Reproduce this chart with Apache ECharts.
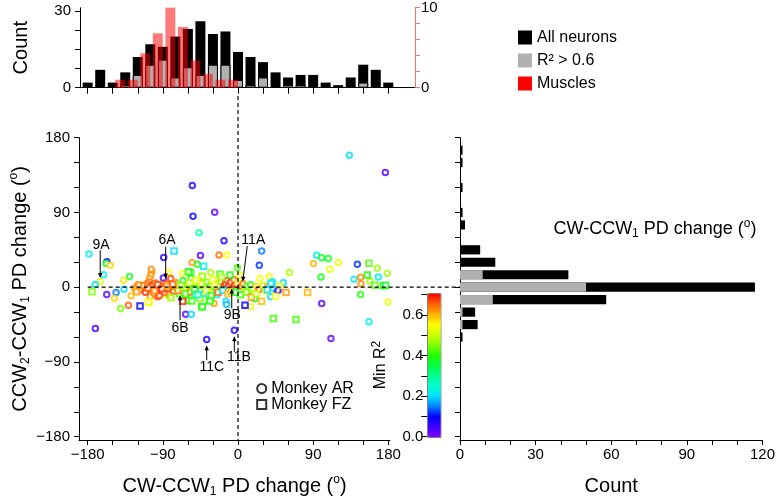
<!DOCTYPE html>
<html><head><meta charset="utf-8">
<script src="https://cdn.jsdelivr.net/npm/echarts@6/dist/echarts.min.js"></script>
<style>html,body{margin:0;padding:0;background:#fff}#c{width:778px;height:504px}</style>
</head><body><div id="c"></div>
<script>
const FONT = '"Liberation Sans", Arial, Helvetica, sans-serif';

// ---- Top histogram: CW-CCW1 PD change (deg) ----
const topBinCenters = [-180,-165,-150,-135,-120,-105,-90,-75,-60,-45,-30,-15,0,15,30,45,60,75,90,105,120,135,150,165,180];
const topAllCounts  = [2,7,2,6,12,17,16,20,23,26,21,22,14,12,10,6,4,5,5,2,1,4,9,7,2];
const topR2Counts   = [0,0,0,1,5,9,11,4,8,5,9,9,3,1,4,0,1,1,0,0,0,0,2,0,0];
const muscleBinCenters = [-141,-126,-111,-96,-81,-66,-51,-36,-21,-6];
const muscleCounts     = [1,1,4.3,6.8,10,7.6,3.4,1.7,1,1];

// ---- Right histogram: CCW2-CCW1 PD change (deg) ----
const rightBinCenters = [165,150,120,90,75,45,30,15,0,-15,-30,-45,-60];
const rightAllCounts  = [1,1,1,1,2,8,14,43,117,58,6,7,1];
const rightR2Counts   = [0,0,0,0,0,0,0,9,50,13,1,1,0];

// ---- Scatter: [CW-CCW1 change, CCW2-CCW1 change, min R2] ----
const monkeyAR = [
 [-54.7,122.4,0.08],[-53.9,85.5,0.10],[-27.9,90.3,0.02],[133.3,158.9,0.20],[176.4,138.1,0.03],
 [-46.7,65.4,0.28],[-16.8,55.8,0.08],[-89.0,35.7,0.08],[-45.0,38.1,0.03],[-22.7,38.9,0.65],
 [-13.6,38.9,0.55],[28.3,43.7,0.15],[25.5,26.5,0.12],[-178.4,40.1,0.22],[-157.0,30.5,0.10],
 [-158.0,28.5,0.38],[-153.0,26.5,0.58],[-161.0,15.0,0.22],[-165.0,6.4,0.52],[-171.0,3.2,0.20],
 [-130.0,13.0,0.38],[-137.0,8.4,0.57],[-103.0,18.5,0.62],[-104.0,21.5,0.63],[-104.5,14.4,0.63],
 [-106.0,10.4,0.62],[-107.0,6.4,0.64],[-89.4,11.2,0.05],[-83.4,17.7,0.55],[-80.6,10.4,0.67],
 [-66.6,16.4,0.55],[-56.3,11.2,0.40],[-55.0,29.7,0.62],[-48.7,27.7,0.40],[-32.7,17.7,0.48],
 [-0.8,23.7,0.42],[2.4,14.4,0.55],[37.5,12.8,0.53],[26.3,10.4,0.55],[61.5,17.7,0.48],
 [54.3,5.6,0.20],[41.5,6.4,0.22],[90.2,28.5,0.60],[94.2,38.5,0.22],[100.2,35.3,0.38],
 [108.1,34.5,0.38],[120.1,29.7,0.53],[110.1,21.7,0.53],[99.4,12.4,0.38],[142.9,27.7,0.12],
 [138.9,9.6,0.22],[146.8,12.0,0.63],[147.2,4.0,0.63],[168.0,12.4,0.22],[166.8,22.9,0.47],
 [178.8,16.9,0.47],[158.0,7.2,0.47],[146.8,-8.8,0.40],[100.2,-19.7,0.03],[179.5,-17.7,0.53],
 [156.8,-41.7,0.22],[46.3,-3.6,0.08],[111.3,-61.8,0.03],[-170.8,-49.8,0.05],[-131.3,-21.7,0.66],
 [-140.5,-25.7,0.45],[-62.7,-32.5,0.03],[-55.9,-32.5,0.20],[-4.4,-51.8,0.08],[-37.5,-63.0,0.08],
 [15.2,-23.7,0.53],[-14.4,-16.9,0.20],[-13.6,-20.9,0.18],[-28.7,-19.7,0.62],[39.1,-11.6,0.20],
 [-157.2,-8.8,0.03],[-146.0,-6.4,0.15],[-148.0,-13.6,0.58],[-136.5,-2.4,0.20],[-128.0,-10.4,0.60],
 [-70.3,-8.4,0.40],[-96.2,-11.6,0.67],[-105.0,-10.8,0.62],[-86.6,-8.8,0.55],[-81.4,-11.6,0.47],
 [-124,-1,0.62],[-120,3,0.64],[-117,-3,0.66],[-114,1,0.63],[-111,-6,0.68],[-109,4,0.65],
 [-106,-2,0.67],[-103,2,0.69],[-101,-7,0.64],[-99,5,0.66],[-97,-1,0.68],[-95,3,0.62],
 [-94,-10,0.67],[-92,-4,0.68],[-90,1,0.65],[-88,-6,0.66],[-86,4,0.67],[-84,-2,0.69],
 [-82,-9,0.64],[-79,2,0.63],[-77,-5,0.66],[-75,6,0.62],[-73,-2,0.40],[-71,3,0.52],
 [-68,-5,0.60],[-66,8,0.38],[-64,-1,0.55],[-62,-12,0.40],[-60,2,0.47],[-58,-6,0.66],
 [-55,4,0.42],[-53,-3,0.52],[-51,-10,0.30],[-49,1,0.56],[-47,7,0.42],[-45,-4,0.38],
 [-43,3,0.60],[-41,-8,0.20],[-39,0,0.50],[-37,6,0.45],[-35,-2,0.15],[-33,2,0.42],
 [-31,-6,0.55],[-29,5,0.48],[-27,-1,0.38],[-25,-9,0.20],[-23,3,0.57],[-21,7,0.44],
 [-19,-3,0.12],[-17,1,0.66],[-15,4,0.68],[-13,8,0.67],[-11,2,0.69],[-9,6,0.68],
 [-7,-2,0.62],[-5,9,0.65],[-4,2,0.68],[-2,-1,0.69],[0,5,0.55],[2,-4,0.38],
 [4,1,0.68],[6,4,0.64],[8,-2,0.52],[10,1,0.44],[12,-6,0.52],[15,3,0.40],
 [18,-8,0.45],[20,-14,0.38],[22,1,0.58],[25,-3,0.66],[30,2,0.50],[33,-5,0.55],
 [36,1,0.62],[42,-1,0.20],[48,-4,0.05],[50,2,0.53]
];
const monkeyFZ = [
 [-174.8,-5.5,0.45],[-117.3,-22.5,0.10],[-106.6,-18.4,0.55],[-76.6,43.7,0.20],[-56.7,17.7,0.40],
 [-41.1,25.3,0.22],[-43.0,12.8,0.53],[-21.5,15.6,0.42],[-9.6,14.8,0.40],[156.8,28.9,0.43],
 [154.8,14.8,0.40],[164.0,2.4,0.43],[174.0,1.6,0.40],[176.8,2.4,0.38],[42.3,-37.7,0.42],
 [69.4,-38.9,0.42],[83.4,-6.4,0.60],[57.5,-6.4,0.62],[8.4,-21.7,0.10],[-43.5,-23.7,0.40],
 [-34.3,-15.7,0.42],[28.3,-16.9,0.60],[39.5,4.4,0.20],[-121.3,-5.6,0.62],[-107.3,-17.7,0.55],
 [-80.2,-12.8,0.47],[-59.5,-15.6,0.40],[-42.7,-23.7,0.40],[-66.2,-16.9,0.68],[-55.5,-16.5,0.42],
 [-45.5,-13.6,0.45],[-33.5,-16.5,0.40],[-118,2.4,0.62],[-112.5,1.6,0.64],[-108,-1,0.66],
 [-100,-4,0.63],[-96,3,0.67],[-91,-2,0.68],[-85,1,0.62],[-78,3.6,0.66],[-72,-4,0.63],
 [-68,2,0.45],[-63,-8,0.42],[-58,5,0.50],[-52,-2,0.38],[-48,-9,0.25],[-44,4,0.48],
 [-38,-4,0.52],[-32,-10,0.40],[-28,3,0.53],[-24,-6,0.65],[-18,-4,0.22],[-12,-8,0.60],
 [-8.4,-5.6,0.60],[-3,-6,0.35],[3,-9,0.42],[10,-6,0.45],[16,-12,0.62],[22,-8,0.50],
 [35,-3,0.20],[45,-11,0.55],[-59.5,18.5,0.40],[-42.7,13.2,0.47],[-20,12,0.48],
 [-30,9,0.55],[-50,8,0.55]
];

// ---- Axis ticks / labels ----
const degTicks  = [-180,-150,-120,-90,-60,-30,0,30,60,90,120,150,180];
const degLabels = [-180,-90,0,90,180];
const topCountTicks  = [0,7.5,15,22.5,30];
const topCountLabels = [0,30];
const muscleTicks  = [0,2,4,6,8,10];
const muscleLabels = [0,10];
const rightCountLabels = [0,30,60,90,120];
const r2Ticks  = [0,0.1,0.2,0.3,0.4,0.5,0.6,0.7];
const r2Labels = [0,0.2,0.4,0.6];

// ---- Annotations (data coordinates) ----
const annotations = [
 {label:'9A',  tx:-164,  ty:51,    x1:-165,  y1:44.5,  x2:-165,  y2:11},
 {label:'6A',  tx:-85,   ty:56.6,  x1:-86.6, y1:48.6,  x2:-86.6, y2:10.5},
 {label:'11A', tx:18.3,  ty:56.6,  x1:11.1,  y1:49.4,  x2:5.6,   y2:6.5},
 {label:'6B',  tx:-69.4, ty:-49.7, x1:-69.4, y1:-39.7, x2:-69.4, y2:-9.6},
 {label:'9B',  tx:-6.8,  ty:-33.7, x1:-7.5,  y1:-25.6, x2:-7.5,  y2:-1.6},
 {label:'11C', tx:-31.5, ty:-95.8, x1:-37.5, y1:-87.9, x2:-37.5, y2:-69.8},
 {label:'11B', tx:1.2,   ty:-84.6, x1:-4.4,  y1:-77.8, x2:-4.4,  y2:-59}
];

const rainbow = ['#8000ff','#4000ff','#0000ff','#0080ff','#00e0ff','#00ffd0','#00ff90','#00ff40',
                 '#20ff00','#80ff00','#d0ff00','#ffff00','#ffb000','#ff6000','#ff0000'];

const minus = v => (v < 0 ? '\u2212' + Math.abs(v) : String(v));
const black = '#000';
const coral = '#ee7755';
const lineStyle = {color: black, width: 1};
const richName = {
  sub: {fontSize: 12, lineHeight: 12, verticalAlign: 'bottom', fontFamily: FONT, color: black},
  sup: {fontSize: 12, lineHeight: 12, verticalAlign: 'top', fontFamily: FONT, color: black}
};
const nameStyle = (size) => ({fontSize: size, lineHeight: size + 4, color: black, fontFamily: FONT, rich: richName});

const chart = echarts.init(document.getElementById('c'), null, {renderer: 'canvas'});

function hbar(color) {
  return function (params, api) {
    const y = api.value(0), c = api.value(1);
    const a = api.coord([0, y]), b = api.coord([c, y]);
    return {type: 'rect', shape: {x: a[0], y: a[1] - 4.6, width: b[0] - a[0], height: 9.2}, style: {fill: color}};
  };
}

const option = {
  animation: false,
  backgroundColor: '#fff',
  textStyle: {fontFamily: FONT, color: black},
  title: {
    text: 'CW-CCW{sub|1} PD change ({sup|o})',
    left: 650, top: 213, textAlign: 'center',
    textStyle: Object.assign(nameStyle(18), {fontWeight: 'normal'})
  },
  grid: [
    {left: 79, top: 137.7, width: 311, height: 302.3},
    {left: 80, top: 7.7, width: 335, height: 80},
    {left: 460, top: 137.7, width: 304.3, height: 302.3},
    {left: 427.3, top: 293.3, width: 13, height: 143.4}
  ],
  xAxis: [
    {gridIndex: 0, type: 'value', min: -190.4, max: 182,
     axisLine: {show: true, onZero: false, lineStyle},
     axisTick: {show: true, customValues: degTicks, length: 5, lineStyle},
     axisLabel: {customValues: degLabels, formatter: minus, fontSize: 15, color: black, margin: 7},
     splitLine: {show: false},
     name: 'CW-CCW{sub|1} PD change ({sup|o})', nameLocation: 'middle', nameGap: 34, nameTextStyle: nameStyle(20)},
    {gridIndex: 1, type: 'value', min: -189.2, max: 212,
     axisLine: {show: true, onZero: false, lineStyle},
     axisTick: {show: true, customValues: degTicks, length: 6, lineStyle},
     axisLabel: {show: false}, splitLine: {show: false}},
    {gridIndex: 2, type: 'value', min: 0, max: 120, interval: 10,
     axisLine: {show: true, onZero: false, lineStyle},
     axisTick: {show: true, length: 5, lineStyle},
     axisLabel: {customValues: rightCountLabels, fontSize: 15, color: black, margin: 7},
     splitLine: {show: false},
     name: 'Count', nameLocation: 'middle', nameGap: 34, nameTextStyle: nameStyle(20)},
    {gridIndex: 3, type: 'value', min: 0, max: 1, show: false}
  ],
  yAxis: [
    {gridIndex: 0, type: 'value', min: -184, max: 180,
     axisLine: {show: true, onZero: false, lineStyle},
     axisTick: {show: true, customValues: degTicks, length: 5, lineStyle},
     axisLabel: {customValues: degLabels, formatter: minus, fontSize: 15, color: black, margin: 9},
     splitLine: {show: false},
     name: 'CCW{sub|2}-CCW{sub|1} PD change ({sup|o})', nameLocation: 'middle', nameGap: 47, nameTextStyle: nameStyle(20)},
    {gridIndex: 1, type: 'value', min: 0, max: 31.3, position: 'left',
     axisLine: {show: true, onZero: false, lineStyle},
     axisTick: {show: true, customValues: topCountTicks, length: 5, lineStyle},
     axisLabel: {customValues: topCountLabels, fontSize: 15, color: black, margin: 9},
     splitLine: {show: false},
     name: 'Count', nameLocation: 'middle', nameGap: 47, nameTextStyle: nameStyle(20)},
    {gridIndex: 1, type: 'value', min: 0, max: 10, position: 'right',
     axisLine: {show: true, onZero: false, lineStyle: {color: coral, width: 1}},
     axisTick: {show: true, customValues: muscleTicks, length: 5, lineStyle: {color: coral, width: 1}},
     axisLabel: {customValues: muscleLabels, fontSize: 15, color: black, margin: 6},
     splitLine: {show: false}},
    {gridIndex: 2, type: 'value', min: -184, max: 180,
     axisLine: {show: true, onZero: false, lineStyle},
     axisTick: {show: true, customValues: degTicks, length: 5, lineStyle},
     axisLabel: {show: false}, splitLine: {show: false}},
    {gridIndex: 3, type: 'value', min: 0, max: 0.706,
     axisLine: {show: false, onZero: false},
     axisTick: {show: true, customValues: r2Ticks, length: 6, lineStyle},
     axisLabel: {customValues: r2Labels, formatter: v => v.toFixed(1), fontSize: 15, color: black, margin: 4},
     splitLine: {show: false},
     name: 'Min R{sup|2}', nameLocation: 'middle', nameGap: 37, nameTextStyle: nameStyle(16)}
  ],
  visualMap: {
    type: 'continuous', min: 0, max: 0.706, dimension: 2, seriesIndex: [0, 1],
    left: 427.3, top: 293.3, itemWidth: 13, itemHeight: 143.4, padding: 0,
    calculable: false, hoverLink: false, text: null, showLabel: false,
    borderColor: '#444', borderWidth: 1,
    inRange: {color: rainbow}
  },
  legend: [
    {orient: 'vertical', left: 513, top: 24.5, itemWidth: 14, itemHeight: 14, itemGap: 7,
     selectedMode: false, textStyle: {fontSize: 16, color: black, fontFamily: FONT},
     data: [
       {name: 'All neurons', icon: 'rect', itemStyle: {color: '#000', borderWidth: 0}},
       {name: 'R\u00b2 > 0.6', icon: 'rect', itemStyle: {color: '#b0b0b0', borderWidth: 0}},
       {name: 'Muscles', icon: 'rect', itemStyle: {color: '#ff0000', opacity: 1, borderWidth: 0}}
     ]},
    {orient: 'vertical', left: 251.2, top: 375.5, itemWidth: 9, itemHeight: 9, itemGap: 0,
     selectedMode: false, textStyle: {fontSize: 16, color: black, fontFamily: FONT},
     data: [
       {name: 'Monkey AR', icon: 'circle', itemStyle: {color: '#fff', borderColor: '#000', borderWidth: 2}},
       {name: 'Monkey FZ', icon: 'rect', itemStyle: {color: '#fff', borderColor: '#000', borderWidth: 2}}
     ]}
  ],
  series: [
    {name: 'Monkey AR', type: 'scatter', xAxisIndex: 0, yAxisIndex: 0,
     symbol: 'emptyCircle', symbolSize: 5.5, itemStyle: {borderWidth: 2}, data: monkeyAR, z: 3},
    {name: 'Monkey FZ', type: 'scatter', xAxisIndex: 0, yAxisIndex: 0,
     symbol: 'emptyRect', symbolSize: 5.5, itemStyle: {borderWidth: 2}, data: monkeyFZ, z: 3},
    {name: 'All neurons', type: 'bar', xAxisIndex: 1, yAxisIndex: 1, barWidth: 10, barGap: '-100%',
     itemStyle: {color: '#000'}, data: topBinCenters.map((x, i) => [x, topAllCounts[i]])},
    {name: 'R\u00b2 > 0.6', type: 'bar', xAxisIndex: 1, yAxisIndex: 1, barWidth: 10, barGap: '-100%',
     itemStyle: {color: '#b0b0b0', borderColor: '#000', borderWidth: 1},
     data: topBinCenters.map((x, i) => [x, topR2Counts[i]]).filter(d => d[1] > 0)},
    {name: 'Muscles', type: 'bar', xAxisIndex: 1, yAxisIndex: 2, barWidth: 10, barGap: '-100%',
     itemStyle: {color: 'rgba(255,0,0,0.52)'}, data: muscleBinCenters.map((x, i) => [x, muscleCounts[i]])},
    {name: 'All neurons', type: 'custom', xAxisIndex: 2, yAxisIndex: 3, renderItem: hbar('#000'),
     encode: {x: 1, y: 0}, data: rightBinCenters.map((y, i) => [y, rightAllCounts[i]])},
    {name: 'R\u00b2 > 0.6', type: 'custom', xAxisIndex: 2, yAxisIndex: 3, renderItem: hbar('#b0b0b0'),
     encode: {x: 1, y: 0}, data: rightBinCenters.map((y, i) => [y, rightR2Counts[i]]).filter(d => d[1] > 0)}
  ]
};
chart.setOption(option);

// Reference lines and annotations positioned through the axes
const P = (x, y) => chart.convertToPixel({gridIndex: 0}, [x, y]);
const g = [];
const o = P(0, 0);
const dashStyle = {stroke: '#000', lineWidth: 1.2, lineDash: [4, 3]};
const leftEdge = P(-180, 0)[0];
const rightEnd = chart.convertToPixel({xAxisIndex: 2}, 0);
g.push({type: 'line', z: 50, shape: {x1: o[0], y1: 96, x2: o[0], y2: 440}, style: dashStyle});
g.push({type: 'line', z: 50, shape: {x1: leftEdge, y1: o[1], x2: rightEnd, y2: o[1]}, style: dashStyle});
annotations.forEach(a => {
  const t = P(a.tx, a.ty), p1 = P(a.x1, a.y1), p2 = P(a.x2, a.y2);
  g.push({type: 'text', z: 60, x: t[0], y: t[1],
          style: {text: a.label, fontSize: 14, fontFamily: FONT, fill: '#000', align: 'center', verticalAlign: 'middle'}});
  const dx = p2[0] - p1[0], dy = p2[1] - p1[1], L = Math.hypot(dx, dy);
  const ux = dx / L, uy = dy / L, hl = 5, hw = 2.2;
  g.push({type: 'line', z: 60, shape: {x1: p1[0], y1: p1[1], x2: p2[0] - ux * hl * 0.8, y2: p2[1] - uy * hl * 0.8},
          style: {stroke: '#000', lineWidth: 1}});
  g.push({type: 'polygon', z: 60, shape: {points: [
            [p2[0], p2[1]],
            [p2[0] - ux * hl - uy * hw, p2[1] - uy * hl + ux * hw],
            [p2[0] - ux * hl + uy * hw, p2[1] - uy * hl - ux * hw]]},
          style: {fill: '#000'}});
});
chart.setOption({graphic: g});
</script>
</body></html>
